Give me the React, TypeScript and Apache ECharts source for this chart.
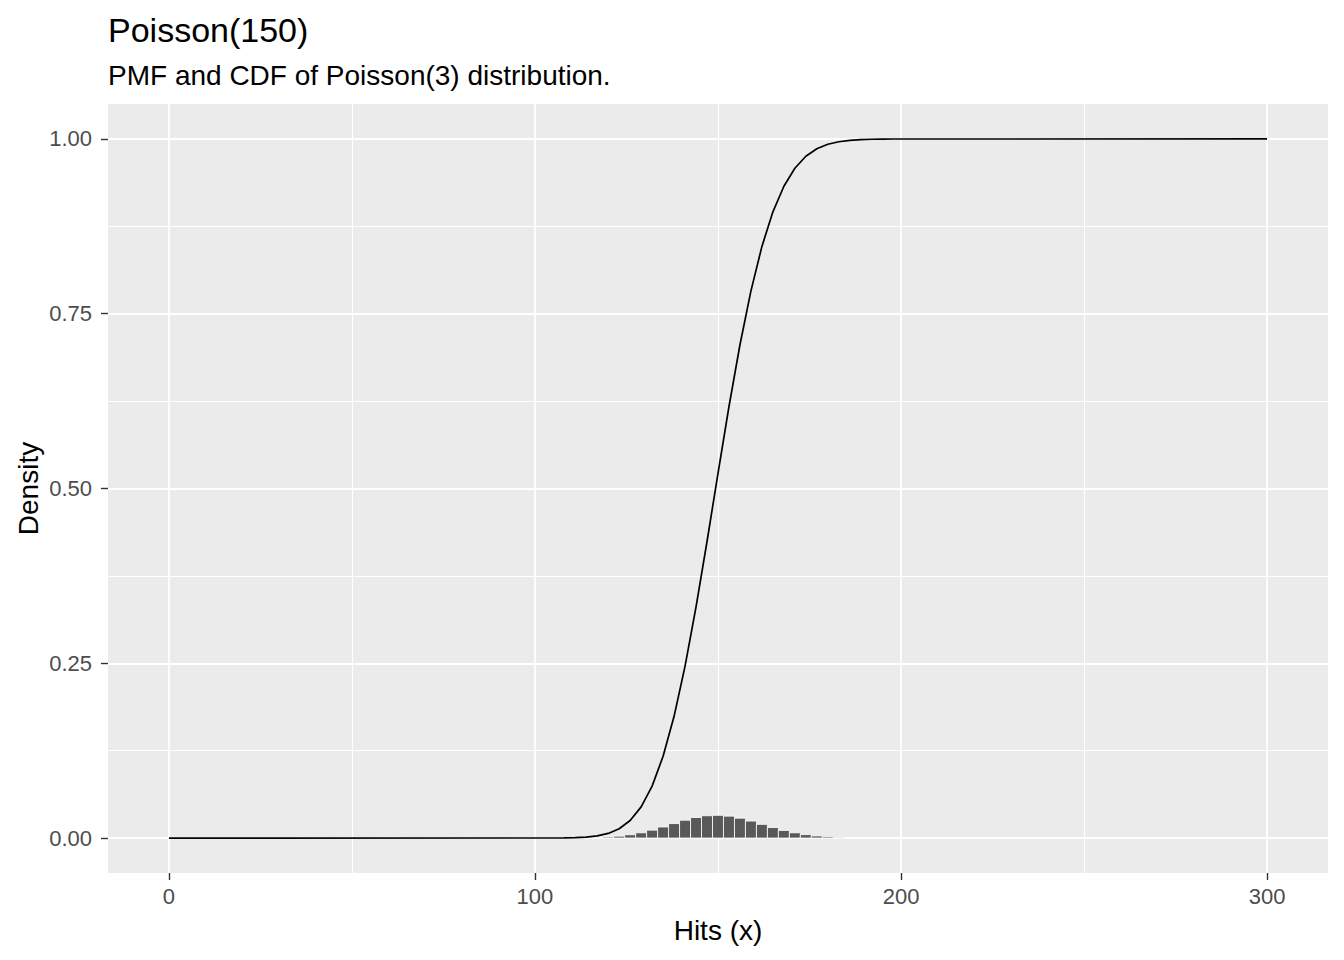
import React, { useEffect, useRef } from "react";
import * as echarts from "echarts";

// PMF bars (x = hits, value = probability)
const pmfX = [117, 120, 123, 126, 129, 132, 135, 138, 141, 144, 147, 150, 153, 156, 159, 162, 165, 168, 171, 174, 177, 180, 183];
const pmfY = [0.0007, 0.0015, 0.0027, 0.0047, 0.0075, 0.0113, 0.0158, 0.0207, 0.0255, 0.0294, 0.0319, 0.0325, 0.0313, 0.0284, 0.0243, 0.0196, 0.015, 0.0109, 0.0075, 0.0049, 0.003, 0.0018, 0.001];

// CDF line
const cdfX = [0, 105, 108, 111, 114, 117, 120, 123, 126, 129, 132, 135, 138, 141, 144, 147, 150, 153, 156, 159, 162, 165, 168, 171, 174, 177, 180, 183, 186, 189, 192, 195, 198, 300];
const cdfY = [0, 0.0001, 0.0002, 0.0005, 0.0013, 0.003, 0.0066, 0.0133, 0.0251, 0.0446, 0.0743, 0.117, 0.1741, 0.246, 0.3306, 0.4242, 0.5217, 0.6173, 0.7056, 0.7827, 0.8463, 0.8958, 0.9324, 0.9581, 0.9752, 0.9859, 0.9924, 0.996, 0.998, 0.9991, 0.9996, 0.9998, 0.9999, 1];

const xTicks = [0, 100, 200, 300];
const xMinor = [50, 150, 250];
const yTicks = [0, 0.25, 0.5, 0.75, 1];
const yMinor = [0.125, 0.375, 0.625, 0.875];

const titleText = "Poisson(150)";
const subtitleText = "PMF and CDF of Poisson(3) distribution.";
const xTitle = "Hits (x)";
const yTitle = "Density";

const FONT = "'Liberation Sans', Arial, sans-serif";

export default function App() {
  const ref = useRef<HTMLDivElement>(null);
  useEffect(() => {
    if (!ref.current) return;
    const chart = echarts.init(ref.current, null, { renderer: "svg" });
    const xMin = -16.65;
    const xMax = 316.65;
    const yMin = -0.05;
    const yMax = 1.05;
    const halfBin = 1.5;
    const option: any = {
      animation: false,
      backgroundColor: "#ffffff",
      textStyle: { fontFamily: FONT },
      grid: {
        left: 108,
        top: 104,
        width: 1220,
        height: 769,
        show: true,
        backgroundColor: "#EBEBEB",
        borderWidth: 0,
        containLabel: false,
      },
      xAxis: [
        {
          type: "value",
          min: xMin,
          max: xMax,
          axisLine: { show: false, onZero: false },
          axisTick: {
            show: true,
            length: 7,
            lineStyle: { color: "#333333", width: 1.4 },
            customValues: xTicks,
          },
          axisLabel: {
            customValues: xTicks,
            color: "#4D4D4D",
            fontSize: 22,
            fontFamily: FONT,
            margin: 12,
          },
          splitLine: { show: true, lineStyle: { color: "#ffffff", width: 1.8 } },
        },
        {
          type: "value",
          min: xMin,
          max: xMax,
          position: "bottom",
          axisLine: { show: false, onZero: false },
          axisTick: { show: false, customValues: xMinor },
          axisLabel: { show: false, customValues: xMinor },
          splitLine: { show: true, lineStyle: { color: "#ffffff", width: 1 } },
        },
      ],
      yAxis: [
        {
          type: "value",
          min: yMin,
          max: yMax,
          axisLine: { show: false, onZero: false },
          axisTick: {
            show: true,
            length: 7,
            lineStyle: { color: "#333333", width: 1.4 },
            customValues: yTicks,
          },
          axisLabel: {
            customValues: yTicks,
            color: "#4D4D4D",
            fontSize: 22,
            fontFamily: FONT,
            margin: 16,
            formatter: (v: number) => v.toFixed(2),
          },
          splitLine: { show: true, lineStyle: { color: "#ffffff", width: 1.8 } },
        },
        {
          type: "value",
          min: yMin,
          max: yMax,
          position: "left",
          axisLine: { show: false, onZero: false },
          axisTick: { show: false, customValues: yMinor },
          axisLabel: { show: false, customValues: yMinor },
          splitLine: { show: true, lineStyle: { color: "#ffffff", width: 1 } },
        },
      ],
      series: [
        {
          type: "custom",
          name: "PMF",
          xAxisIndex: 0,
          yAxisIndex: 0,
          encode: { x: 0, y: 1 },
          data: pmfX.map((x, i) => [x, pmfY[i]]),
          renderItem: (params: any, api: any) => {
            const x = api.value(0);
            const y = api.value(1);
            const p0 = api.coord([x - halfBin, y]);
            const p1 = api.coord([x + halfBin, 0]);
            return {
              type: "rect",
              shape: { x: p0[0], y: p0[1], width: p1[0] - p0[0], height: p1[1] - p0[1] },
              style: { fill: "#595959", stroke: "#ffffff", lineWidth: 0.8 },
            };
          },
          z: 2,
        },
        {
          type: "line",
          name: "CDF",
          xAxisIndex: 0,
          yAxisIndex: 0,
          data: cdfX.map((x, i) => [x, cdfY[i]]),
          showSymbol: false,
          symbol: "none",
          lineStyle: { color: "#000000", width: 1.7 },
          z: 3,
        },
      ],
      graphic: [
        {
          type: "text",
          x: 108,
          y: 30,
          style: {
            text: titleText,
            fontSize: 34,
            fontFamily: FONT,
            fill: "#000000",
            align: "left",
            verticalAlign: "middle",
          },
        },
        {
          type: "text",
          x: 108,
          y: 75,
          style: {
            text: subtitleText,
            fontSize: 28,
            fontFamily: FONT,
            fill: "#000000",
            align: "left",
            verticalAlign: "middle",
          },
        },
        {
          type: "text",
          x: 718,
          y: 930,
          style: {
            text: xTitle,
            fontSize: 28,
            fontFamily: FONT,
            fill: "#000000",
            align: "center",
            verticalAlign: "middle",
          },
        },
        {
          type: "text",
          x: 28,
          y: 488.5,
          rotation: Math.PI / 2,
          style: {
            text: yTitle,
            fontSize: 28,
            fontFamily: FONT,
            fill: "#000000",
            align: "center",
            verticalAlign: "middle",
          },
        },
      ],
    };
    chart.setOption(option);
    return () => {
      chart.dispose();
    };
  }, []);
  return (
    <div
      ref={ref}
      style={{ position: "absolute", left: 0, top: 0, width: 1344, height: 960, background: "#ffffff" }}
    />
  );
}
